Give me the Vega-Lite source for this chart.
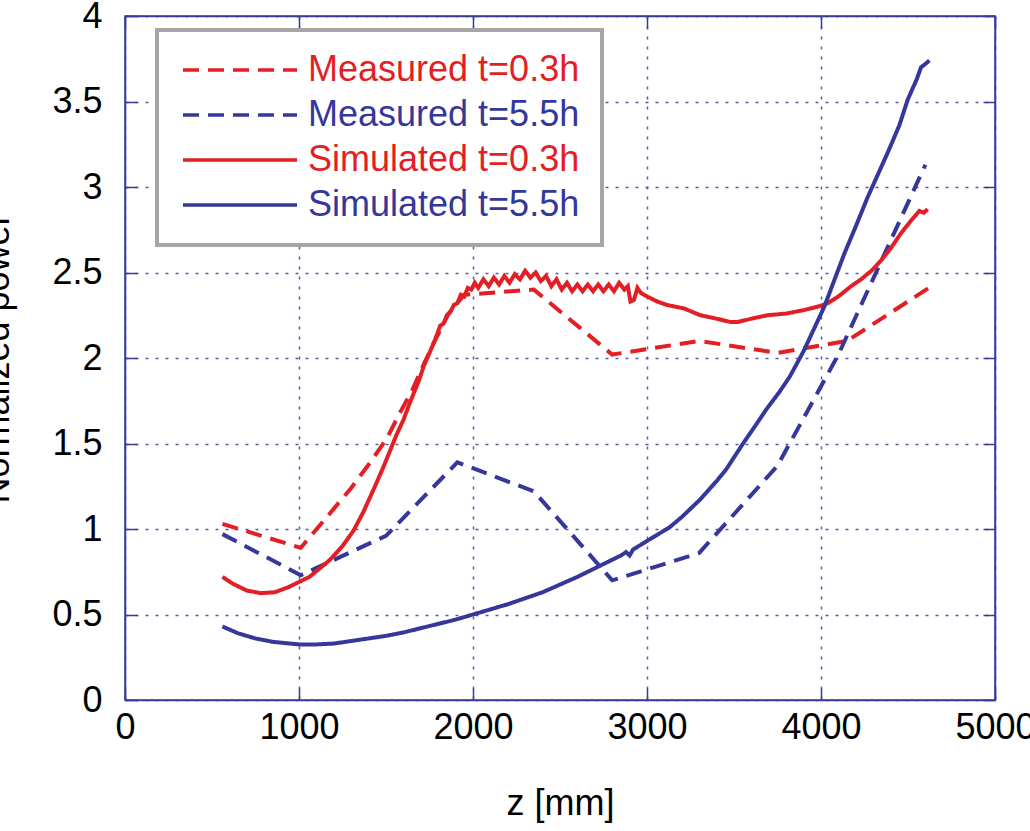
{
  "$schema": "https://vega.github.io/schema/vega-lite/v6.json",
  "background": "white",
  "autosize": {"type": "none"},
  "padding": {"left": 125, "top": 16, "right": 35, "bottom": 131},
  "width": 870,
  "height": 684,
  "data": {"values": [
    {"series": "Measured t=0.3h", "z": 560, "v": 1.03},
    {"series": "Measured t=0.3h", "z": 1010, "v": 0.89},
    {"series": "Measured t=0.3h", "z": 1160, "v": 1.07},
    {"series": "Measured t=0.3h", "z": 1300, "v": 1.24},
    {"series": "Measured t=0.3h", "z": 1410, "v": 1.39},
    {"series": "Measured t=0.3h", "z": 1505, "v": 1.53},
    {"series": "Measured t=0.3h", "z": 1575, "v": 1.67},
    {"series": "Measured t=0.3h", "z": 1650, "v": 1.81},
    {"series": "Measured t=0.3h", "z": 1720, "v": 1.97},
    {"series": "Measured t=0.3h", "z": 1790, "v": 2.12},
    {"series": "Measured t=0.3h", "z": 1860, "v": 2.26},
    {"series": "Measured t=0.3h", "z": 1950, "v": 2.37},
    {"series": "Measured t=0.3h", "z": 2350, "v": 2.40},
    {"series": "Measured t=0.3h", "z": 2800, "v": 2.02},
    {"series": "Measured t=0.3h", "z": 3300, "v": 2.10},
    {"series": "Measured t=0.3h", "z": 3750, "v": 2.03},
    {"series": "Measured t=0.3h", "z": 4150, "v": 2.10},
    {"series": "Measured t=0.3h", "z": 4620, "v": 2.41},

    {"series": "Measured t=5.5h", "z": 560, "v": 0.97},
    {"series": "Measured t=5.5h", "z": 1010, "v": 0.73},
    {"series": "Measured t=5.5h", "z": 1500, "v": 0.96},
    {"series": "Measured t=5.5h", "z": 1910, "v": 1.39},
    {"series": "Measured t=5.5h", "z": 2350, "v": 1.22},
    {"series": "Measured t=5.5h", "z": 2800, "v": 0.70},
    {"series": "Measured t=5.5h", "z": 3300, "v": 0.86},
    {"series": "Measured t=5.5h", "z": 3750, "v": 1.37},
    {"series": "Measured t=5.5h", "z": 4100, "v": 2.02},
    {"series": "Measured t=5.5h", "z": 4600, "v": 3.13},

    {"series": "Simulated t=0.3h", "z": 560, "v": 0.72},
    {"series": "Simulated t=0.3h", "z": 620, "v": 0.68},
    {"series": "Simulated t=0.3h", "z": 700, "v": 0.64},
    {"series": "Simulated t=0.3h", "z": 780, "v": 0.625},
    {"series": "Simulated t=0.3h", "z": 860, "v": 0.63},
    {"series": "Simulated t=0.3h", "z": 940, "v": 0.66},
    {"series": "Simulated t=0.3h", "z": 1000, "v": 0.69},
    {"series": "Simulated t=0.3h", "z": 1060, "v": 0.72},
    {"series": "Simulated t=0.3h", "z": 1120, "v": 0.77},
    {"series": "Simulated t=0.3h", "z": 1178, "v": 0.82},
    {"series": "Simulated t=0.3h", "z": 1250, "v": 0.90},
    {"series": "Simulated t=0.3h", "z": 1313, "v": 0.99},
    {"series": "Simulated t=0.3h", "z": 1370, "v": 1.10},
    {"series": "Simulated t=0.3h", "z": 1428, "v": 1.23},
    {"series": "Simulated t=0.3h", "z": 1480, "v": 1.35},
    {"series": "Simulated t=0.3h", "z": 1524, "v": 1.46},
    {"series": "Simulated t=0.3h", "z": 1560, "v": 1.55},
    {"series": "Simulated t=0.3h", "z": 1601, "v": 1.64},
    {"series": "Simulated t=0.3h", "z": 1630, "v": 1.72},
    {"series": "Simulated t=0.3h", "z": 1658, "v": 1.79},
    {"series": "Simulated t=0.3h", "z": 1690, "v": 1.87},
    {"series": "Simulated t=0.3h", "z": 1716, "v": 1.95},
    {"series": "Simulated t=0.3h", "z": 1750, "v": 2.03},
    {"series": "Simulated t=0.3h", "z": 1783, "v": 2.11},
    {"series": "Simulated t=0.3h", "z": 1812, "v": 2.19},
    {"series": "Simulated t=0.3h", "z": 1830, "v": 2.20},
    {"series": "Simulated t=0.3h", "z": 1850, "v": 2.25},
    {"series": "Simulated t=0.3h", "z": 1870, "v": 2.27},
    {"series": "Simulated t=0.3h", "z": 1890, "v": 2.31},
    {"series": "Simulated t=0.3h", "z": 1910, "v": 2.32},
    {"series": "Simulated t=0.3h", "z": 1930, "v": 2.37},
    {"series": "Simulated t=0.3h", "z": 1950, "v": 2.36},
    {"series": "Simulated t=0.3h", "z": 1970, "v": 2.41},
    {"series": "Simulated t=0.3h", "z": 1990, "v": 2.40},
    {"series": "Simulated t=0.3h", "z": 2010, "v": 2.44},
    {"series": "Simulated t=0.3h", "z": 2030, "v": 2.41},
    {"series": "Simulated t=0.3h", "z": 2060, "v": 2.46},
    {"series": "Simulated t=0.3h", "z": 2090, "v": 2.42},
    {"series": "Simulated t=0.3h", "z": 2120, "v": 2.47},
    {"series": "Simulated t=0.3h", "z": 2150, "v": 2.43},
    {"series": "Simulated t=0.3h", "z": 2180, "v": 2.48},
    {"series": "Simulated t=0.3h", "z": 2210, "v": 2.44},
    {"series": "Simulated t=0.3h", "z": 2240, "v": 2.49},
    {"series": "Simulated t=0.3h", "z": 2270, "v": 2.46},
    {"series": "Simulated t=0.3h", "z": 2300, "v": 2.51},
    {"series": "Simulated t=0.3h", "z": 2330, "v": 2.47},
    {"series": "Simulated t=0.3h", "z": 2360, "v": 2.50},
    {"series": "Simulated t=0.3h", "z": 2390, "v": 2.45},
    {"series": "Simulated t=0.3h", "z": 2420, "v": 2.48},
    {"series": "Simulated t=0.3h", "z": 2450, "v": 2.42},
    {"series": "Simulated t=0.3h", "z": 2480, "v": 2.46},
    {"series": "Simulated t=0.3h", "z": 2510, "v": 2.40},
    {"series": "Simulated t=0.3h", "z": 2540, "v": 2.44},
    {"series": "Simulated t=0.3h", "z": 2570, "v": 2.39},
    {"series": "Simulated t=0.3h", "z": 2600, "v": 2.43},
    {"series": "Simulated t=0.3h", "z": 2630, "v": 2.39},
    {"series": "Simulated t=0.3h", "z": 2660, "v": 2.43},
    {"series": "Simulated t=0.3h", "z": 2690, "v": 2.39},
    {"series": "Simulated t=0.3h", "z": 2720, "v": 2.43},
    {"series": "Simulated t=0.3h", "z": 2750, "v": 2.39},
    {"series": "Simulated t=0.3h", "z": 2780, "v": 2.43},
    {"series": "Simulated t=0.3h", "z": 2810, "v": 2.39},
    {"series": "Simulated t=0.3h", "z": 2840, "v": 2.44},
    {"series": "Simulated t=0.3h", "z": 2870, "v": 2.40},
    {"series": "Simulated t=0.3h", "z": 2890, "v": 2.42},
    {"series": "Simulated t=0.3h", "z": 2905, "v": 2.33},
    {"series": "Simulated t=0.3h", "z": 2925, "v": 2.34},
    {"series": "Simulated t=0.3h", "z": 2945, "v": 2.41},
    {"series": "Simulated t=0.3h", "z": 2965, "v": 2.38},
    {"series": "Simulated t=0.3h", "z": 3000, "v": 2.36},
    {"series": "Simulated t=0.3h", "z": 3060, "v": 2.33},
    {"series": "Simulated t=0.3h", "z": 3115, "v": 2.31},
    {"series": "Simulated t=0.3h", "z": 3212, "v": 2.29},
    {"series": "Simulated t=0.3h", "z": 3307, "v": 2.25},
    {"series": "Simulated t=0.3h", "z": 3400, "v": 2.23},
    {"series": "Simulated t=0.3h", "z": 3481, "v": 2.21},
    {"series": "Simulated t=0.3h", "z": 3519, "v": 2.21},
    {"series": "Simulated t=0.3h", "z": 3600, "v": 2.23},
    {"series": "Simulated t=0.3h", "z": 3692, "v": 2.25},
    {"series": "Simulated t=0.3h", "z": 3800, "v": 2.26},
    {"series": "Simulated t=0.3h", "z": 3900, "v": 2.28},
    {"series": "Simulated t=0.3h", "z": 3981, "v": 2.30},
    {"series": "Simulated t=0.3h", "z": 4038, "v": 2.32},
    {"series": "Simulated t=0.3h", "z": 4100, "v": 2.36},
    {"series": "Simulated t=0.3h", "z": 4173, "v": 2.42},
    {"series": "Simulated t=0.3h", "z": 4230, "v": 2.46},
    {"series": "Simulated t=0.3h", "z": 4290, "v": 2.51},
    {"series": "Simulated t=0.3h", "z": 4345, "v": 2.57},
    {"series": "Simulated t=0.3h", "z": 4400, "v": 2.64},
    {"series": "Simulated t=0.3h", "z": 4460, "v": 2.73},
    {"series": "Simulated t=0.3h", "z": 4515, "v": 2.80},
    {"series": "Simulated t=0.3h", "z": 4565, "v": 2.86},
    {"series": "Simulated t=0.3h", "z": 4590, "v": 2.85},
    {"series": "Simulated t=0.3h", "z": 4613, "v": 2.87},

    {"series": "Simulated t=5.5h", "z": 560, "v": 0.43},
    {"series": "Simulated t=5.5h", "z": 650, "v": 0.39},
    {"series": "Simulated t=5.5h", "z": 750, "v": 0.36},
    {"series": "Simulated t=5.5h", "z": 850, "v": 0.34},
    {"series": "Simulated t=5.5h", "z": 1000, "v": 0.325},
    {"series": "Simulated t=5.5h", "z": 1100, "v": 0.325},
    {"series": "Simulated t=5.5h", "z": 1200, "v": 0.33},
    {"series": "Simulated t=5.5h", "z": 1300, "v": 0.345},
    {"series": "Simulated t=5.5h", "z": 1400, "v": 0.36},
    {"series": "Simulated t=5.5h", "z": 1500, "v": 0.375},
    {"series": "Simulated t=5.5h", "z": 1600, "v": 0.395},
    {"series": "Simulated t=5.5h", "z": 1700, "v": 0.42},
    {"series": "Simulated t=5.5h", "z": 1800, "v": 0.445},
    {"series": "Simulated t=5.5h", "z": 1900, "v": 0.47},
    {"series": "Simulated t=5.5h", "z": 2000, "v": 0.50},
    {"series": "Simulated t=5.5h", "z": 2100, "v": 0.53},
    {"series": "Simulated t=5.5h", "z": 2200, "v": 0.56},
    {"series": "Simulated t=5.5h", "z": 2300, "v": 0.595},
    {"series": "Simulated t=5.5h", "z": 2400, "v": 0.63},
    {"series": "Simulated t=5.5h", "z": 2500, "v": 0.675},
    {"series": "Simulated t=5.5h", "z": 2600, "v": 0.72},
    {"series": "Simulated t=5.5h", "z": 2700, "v": 0.77},
    {"series": "Simulated t=5.5h", "z": 2800, "v": 0.82},
    {"series": "Simulated t=5.5h", "z": 2850, "v": 0.845},
    {"series": "Simulated t=5.5h", "z": 2880, "v": 0.865},
    {"series": "Simulated t=5.5h", "z": 2900, "v": 0.845},
    {"series": "Simulated t=5.5h", "z": 2920, "v": 0.88},
    {"series": "Simulated t=5.5h", "z": 3000, "v": 0.93},
    {"series": "Simulated t=5.5h", "z": 3130, "v": 1.01},
    {"series": "Simulated t=5.5h", "z": 3200, "v": 1.07},
    {"series": "Simulated t=5.5h", "z": 3303, "v": 1.17},
    {"series": "Simulated t=5.5h", "z": 3400, "v": 1.28},
    {"series": "Simulated t=5.5h", "z": 3456, "v": 1.35},
    {"series": "Simulated t=5.5h", "z": 3552, "v": 1.50},
    {"series": "Simulated t=5.5h", "z": 3620, "v": 1.60},
    {"series": "Simulated t=5.5h", "z": 3686, "v": 1.70},
    {"series": "Simulated t=5.5h", "z": 3760, "v": 1.80},
    {"series": "Simulated t=5.5h", "z": 3820, "v": 1.89},
    {"series": "Simulated t=5.5h", "z": 3900, "v": 2.04},
    {"series": "Simulated t=5.5h", "z": 4019, "v": 2.30},
    {"series": "Simulated t=5.5h", "z": 4134, "v": 2.61},
    {"series": "Simulated t=5.5h", "z": 4200, "v": 2.77},
    {"series": "Simulated t=5.5h", "z": 4268, "v": 2.94},
    {"series": "Simulated t=5.5h", "z": 4383, "v": 3.20},
    {"series": "Simulated t=5.5h", "z": 4450, "v": 3.36},
    {"series": "Simulated t=5.5h", "z": 4498, "v": 3.51},
    {"series": "Simulated t=5.5h", "z": 4550, "v": 3.63},
    {"series": "Simulated t=5.5h", "z": 4575, "v": 3.70},
    {"series": "Simulated t=5.5h", "z": 4600, "v": 3.72},
    {"series": "Simulated t=5.5h", "z": 4623, "v": 3.74}
  ]},
  "layer": [
    {
      "mark": {"type": "line", "strokeWidth": 4, "clip": true},
      "encoding": {
        "x": {"field": "z", "type": "quantitative",
          "scale": {"domain": [0, 5000], "nice": false},
          "axis": {"orient": "bottom", "values": [0, 1000, 2000, 3000, 4000, 5000], "format": "d",
            "labelFlush": false, "tickSize": -12, "labelPadding": 22, "grid": true,
            "title": "z [mm]", "titleY": 114, "titleBaseline": "alphabetic"}},
        "y": {"field": "v", "type": "quantitative",
          "scale": {"domain": [0, 4], "nice": false},
          "axis": {"orient": "left", "values": [0, 0.5, 1, 1.5, 2, 2.5, 3, 3.5, 4], "format": "~g",
            "labelFlush": false, "tickSize": -12, "labelPadding": 35, "grid": true,
            "title": "Normalized power", "titleX": -117, "titleY": 342, "titleAngle": -90,
            "titleBaseline": "alphabetic", "titleAlign": "center"}},
        "color": {"field": "series", "type": "nominal",
          "scale": {"domain": ["Measured t=0.3h", "Measured t=5.5h", "Simulated t=0.3h", "Simulated t=5.5h"],
            "range": ["#E31E24", "#35379B", "#E31E24", "#35379B"]},
          "legend": {"orient": "none", "legendX": 32, "legendY": 14, "title": null,
            "symbolType": "M-3.8,0H3.8", "symbolSize": 900, "symbolStrokeWidth": 3.5,
            "symbolOffset": 43, "labelOffset": 50, "labelFont": "Liberation Sans", "labelFontSize": 36,
            "rowPadding": 9, "padding": 22, "fillColor": "white", "strokeColor": "#a6a6a6", "labelLimit": 500,
            "encode": {"legend": {"update": {"strokeWidth": {"value": 4}}},
                       "labels": {"update": {"fill": {"scale": "color", "field": "value"}}}}}},
        "strokeDash": {"field": "series", "type": "nominal",
          "scale": {"domain": ["Measured t=0.3h", "Measured t=5.5h", "Simulated t=0.3h", "Simulated t=5.5h"],
            "range": [[16, 9], [16, 9], [1, 0], [1, 0]]},
          "legend": {"orient": "none", "legendX": 32, "legendY": 14, "title": null,
            "symbolType": "M-3.8,0H3.8", "symbolSize": 900, "symbolStrokeWidth": 3.5,
            "symbolOffset": 43, "labelOffset": 50, "labelFont": "Liberation Sans", "labelFontSize": 36,
            "rowPadding": 9, "padding": 22, "fillColor": "white", "strokeColor": "#a6a6a6", "labelLimit": 500,
            "encode": {"legend": {"update": {"strokeWidth": {"value": 4}}},
                       "labels": {"update": {"fill": {"scale": "color", "field": "value"}}}}}}
      }
    },
    {
      "mark": {"type": "line", "opacity": 0},
      "encoding": {
        "x": {"field": "z", "type": "quantitative",
          "scale": {"domain": [0, 5000], "nice": false},
          "axis": {"orient": "top", "values": [0, 1000, 2000, 3000, 4000, 5000], "labels": false,
            "tickSize": -12, "grid": false, "title": null}},
        "y": {"field": "v", "type": "quantitative",
          "scale": {"domain": [0, 4], "nice": false},
          "axis": {"orient": "right", "values": [0, 0.5, 1, 1.5, 2, 2.5, 3, 3.5, 4], "labels": false,
            "tickSize": -12, "grid": false, "title": null}}
      }
    }
  ],
  "config": {
    "view": {"stroke": "#3b3b96", "strokeWidth": 1.5},
    "axis": {"domainColor": "#3b3b96", "domainWidth": 1.5, "tickColor": "#3b3b96", "tickWidth": 1.5,
      "gridColor": "#5a5aa8", "gridDash": [3, 7], "gridWidth": 1.5, "gridOpacity": 1,
      "labelFont": "Liberation Sans", "labelFontSize": 36, "labelColor": "black",
      "titleFont": "Liberation Sans", "titleFontSize": 36, "titleColor": "black", "titleFontWeight": "normal"}
  }
}
